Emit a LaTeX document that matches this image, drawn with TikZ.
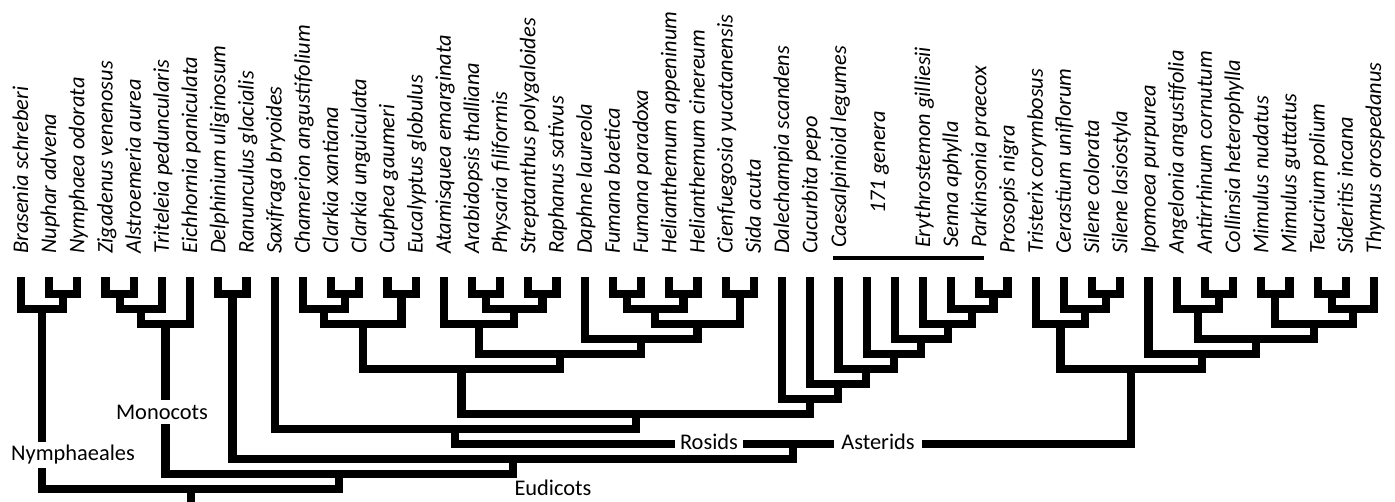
\documentclass[tikz,border=0pt]{standalone}
\usepackage{fontspec}
\setmainfont{Carlito}
\usetikzlibrary{calc}
\tikzset{
  br/.style={line width=8.2pt, line join=miter, line cap=butt},
  tiplab/.style={rotate=90, anchor=base west, inner sep=0pt, font=\fontsize{22.4}{26}\selectfont\itshape},
  cladelab/.style={fill=white, inner xsep=5pt, inner ysep=3pt, font=\fontsize{22.4}{26}\selectfont},
  plainlab/.style={inner sep=0pt, font=\fontsize{22.4}{26}\selectfont},
  capbar/.style={line width=4pt}
}
\newcommand\clade[4]{%
  \path let \p1=(#2), \p2=(#3) in coordinate (#1) at ({0.5*\x1+0.5*\x2},{(-279-15*#4)*1pt});
  \draw[br] (#2) |- (#1) -| (#3);}
\begin{document}
\begin{tikzpicture}[x=1pt,y=-1pt]
\useasboundingbox (0,0) rectangle (1395,501);
\foreach \i in {1,...,49} \coordinate (t\i) at ({21+(\i-1)*28.1875},277);
% Nymphaeales
\clade{nyA}{t2}{t3}{1}
\clade{nym}{t1}{nyA}{2}
% Monocots
\clade{moA}{t4}{t5}{1}
\clade{moB}{moA}{t6}{2}
\clade{mono}{moB}{t7}{3}
% Ranunculales
\clade{ran}{t8}{t9}{1}
% Myrtales
\clade{myA}{t12}{t13}{1}
\clade{myB}{t11}{myA}{2}
\clade{myC}{t14}{t15}{1}
\clade{myrt}{myB}{myC}{3}
% Brassicales
\clade{brA}{t17}{t18}{1}
\clade{brB}{t19}{t20}{1}
\clade{brC}{brA}{brB}{2}
\clade{bras}{t16}{brC}{3}
% Malvales
\clade{maA}{t22}{t23}{1}
\clade{maB}{t24}{t25}{1}
\clade{maC}{maA}{maB}{2}
\clade{maD}{t26}{t27}{1}
\clade{maE}{maC}{maD}{3}
\clade{malv}{t21}{maE}{4}
\clade{bm}{bras}{malv}{5}
\clade{malvids}{myrt}{bm}{6}
% Fabids ladder
\clade{fa1}{t35}{t36}{1}
\clade{fa2}{t34}{fa1}{2}
\clade{fa3}{t33}{fa2}{3}
\clade{fa4}{t32}{fa3}{4}
\clade{fa5}{t31}{fa4}{5}
\clade{fa6}{t30}{fa5}{6}
\clade{fa7}{t29}{fa6}{7}
\clade{fa8}{t28}{fa7}{8}
\clade{rosA}{malvids}{fa8}{9}
\clade{rosB}{t10}{rosA}{10}
% Asterids
\clade{caA}{t39}{t40}{1}
\clade{caB}{t38}{caA}{2}
\clade{cary}{t37}{caB}{3}
\clade{laA}{t43}{t44}{1}
\clade{laB}{t42}{laA}{2}
\clade{laC}{t45}{t46}{1}
\clade{laD}{t47}{t48}{1}
\clade{laE}{laD}{t49}{2}
\clade{laF}{laC}{laE}{3}
\clade{laG}{laB}{laF}{4}
\clade{laH}{t41}{laG}{5}
\clade{ast}{cary}{laH}{6}
% backbone
\clade{core}{rosB}{ast}{11}
\clade{eud}{ran}{core}{12}
\clade{ang}{mono}{eud}{13}
\clade{root}{nym}{ang}{14}
\coordinate (rootend) at ($(root)+(0,16)$);
\draw[br] (root) -- (rootend);
% bar over caesalpinioids
\coordinate (cbarL) at (833,258);
\coordinate (cbarR) at (984,258);
\draw[capbar] (cbarL) -- (cbarR);
% tip labels
\foreach \i/\nm in {1/Brasenia schreberi, 2/Nuphar advena, 3/Nymphaea odorata, 4/Zigadenus venenosus, 5/Alstroemeria aurea, 6/Triteleia peduncularis, 7/Eichhornia paniculata, 8/Delphinium uliginosum, 9/Ranunculus glacialis, 10/Saxifraga bryoides, 11/Chamerion angustifolium, 12/Clarkia xantiana, 13/Clarkia unguiculata, 14/Cuphea gaumeri, 15/Eucalyptus globulus, 16/Atamisquea emarginata, 17/Arabidopsis thalliana, 18/Physaria filiformis, 19/Streptanthus polygaloides, 20/Raphanus sativus, 21/Daphne laureola, 22/Fumana baetica, 23/Fumana paradoxa, 24/Helianthemum appeninum, 25/Helianthemum cinereum, 26/Cienfuegosia yucatanensis, 27/Sida acuta, 28/Dalechampia scandens, 29/Cucurbita pepo, 36/Prosopis nigra, 37/Tristerix corymbosus, 38/Cerastium uniflorum, 39/Silene colorata, 40/Silene lasiostyla, 41/Ipomoea purpurea, 42/Angelonia angustifolia, 43/Antirrhinum cornutum, 44/Collinsia heterophylla, 45/Mimulus nudatus, 46/Mimulus guttatus, 47/Teucrium polium, 48/Sideritis incana, 49/Thymus orospedanus}
  \node[tiplab] (lab\i) at ({28+(\i-1)*28.1875},254) {\nm};
\foreach \i/\nm in {33/Erythrostemon gilliesii, 34/Senna aphylla, 35/Parkinsonia praecox}
  \node[tiplab] (lab\i) at ({28+(\i-1)*28.1875},248) {\nm};
\node[tiplab] (labC) at (846,248) {Caesalpinioid legumes};
\node[tiplab] (labG) at (885,214) {171 genera};
% clade labels
\node[cladelab] (lnym) at (73,455) {Nymphaeales};
\node[cladelab, inner ysep=5pt] (lmono) at (162,412) {Monocots};
\node[cladelab, inner ysep=1pt] (lros) at (709,442) {Rosids};
\node[cladelab, inner ysep=1pt, inner xsep=7pt] (last) at (878,442) {Asterids};
\node[plainlab] (leud) at (553,488) {Eudicots};
\end{tikzpicture}
\end{document}
